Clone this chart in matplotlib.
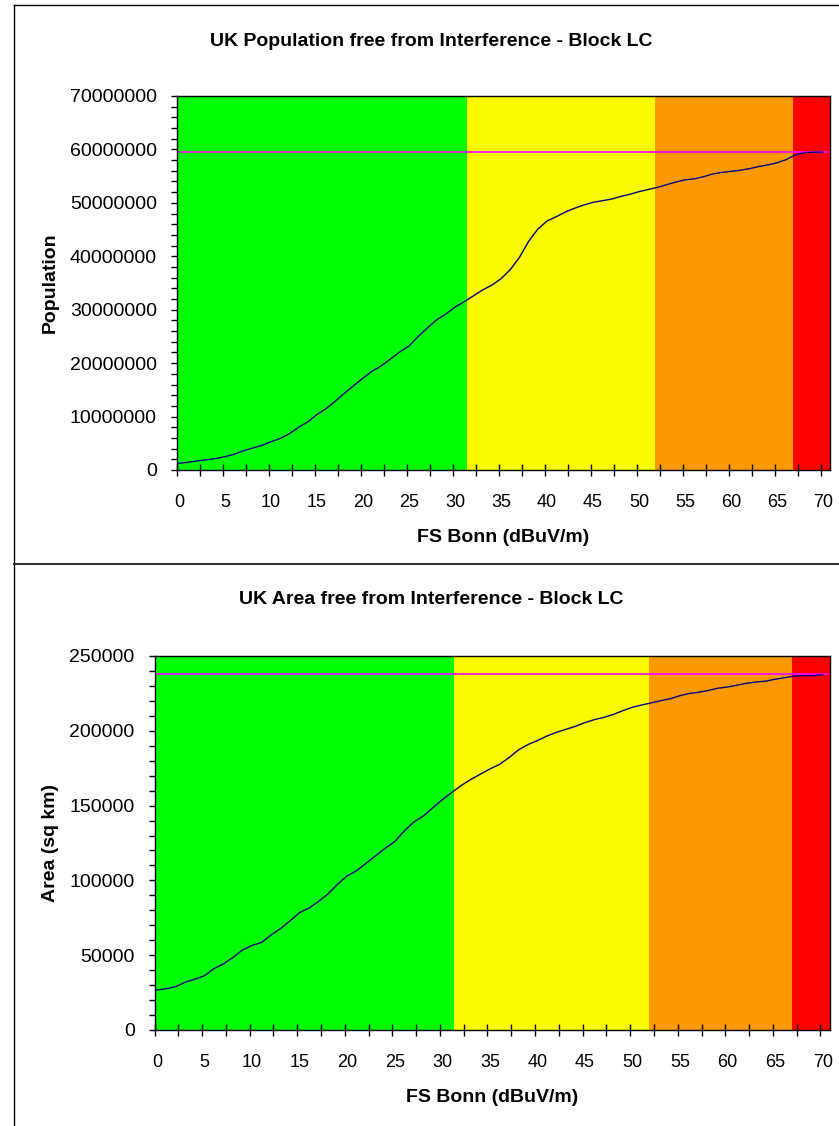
import matplotlib
matplotlib.use('Agg')
import matplotlib.pyplot as plt
import matplotlib.transforms as mtransforms
from matplotlib.lines import Line2D
from matplotlib.ticker import MultipleLocator, FixedLocator, FormatStrFormatter
import numpy as np

plt.rcParams['font.family'] = ['Liberation Sans', 'DejaVu Sans']

# ---- data ----
fs_bonn = np.arange(0, 71)  # dBuV/m

population = [1.25, 1.45, 1.7, 1.9, 2.15, 2.5, 2.95, 3.6, 4.1, 4.6,
              5.3, 5.9, 6.8, 8.0, 9.0, 10.4, 11.5, 12.9, 14.4, 15.8,
              17.2, 18.5, 19.5, 20.8, 22.1, 23.2, 25.0, 26.6, 28.1, 29.2,
              30.5, 31.5, 32.6, 33.7, 34.6, 35.8, 37.5, 39.8, 42.8, 45.1,
              46.6, 47.4, 48.3, 49.0, 49.6, 50.1, 50.4, 50.7, 51.2, 51.6,
              52.1, 52.5, 52.9, 53.4, 53.9, 54.3, 54.5, 54.9, 55.4, 55.7,
              55.9, 56.1, 56.4, 56.8, 57.1, 57.5, 58.1, 59.0, 59.4, 59.5,
              59.5]  # millions
population = np.array(population) * 1e6
pop_total = 59.5e6

area = [26.7, 27.6, 29.0, 32.0, 34.0, 36.3, 41.0, 44.2, 48.5, 53.5,
        56.5, 58.5, 63.5, 67.8, 73.0, 78.5, 81.5, 86.0, 91.0, 97.5,
        103.0, 106.5, 111.5, 116.5, 121.5, 126.0, 133.0, 139.0, 143.0, 148.5,
        154.0, 158.8, 163.5, 167.5, 171.0, 174.5, 177.5, 182.0, 187.2, 190.8,
        193.5, 196.5, 199.0, 201.0, 203.0, 205.5, 207.5, 209.0, 211.0, 213.5,
        215.8, 217.3, 218.7, 220.2, 221.5, 223.5, 225.0, 225.8, 227.0, 228.5,
        229.3, 230.5, 231.8, 232.6, 233.2, 234.5, 235.5, 236.6, 236.8, 236.8,
        237.5]  # thousand sq km
area = np.array(area) * 1e3
area_total = 237800

# interference bands
band_edges = [-0.25, 31.25, 51.75, 66.75, 70.75]
band_colors = ['#00FF00', '#FBFB00', '#FC9900', '#FF0000']

W, H = 839, 1126
fig = plt.figure(figsize=(W / 100, H / 100), dpi=100)
fig.patch.set_facecolor('white')

FS = 14      # titles, axis labels, y tick labels
FSX = 13     # x tick labels


def panel(rect, y, total, ymax, ymajor, yminor, title, ylabel, title_y):
    ax = fig.add_axes(rect)
    for i in range(len(band_colors)):
        ax.axvspan(band_edges[i], band_edges[i + 1], color=band_colors[i], lw=0, zorder=0)
    ax.plot([fs_bonn[0], fs_bonn[-1] + 0.5], [total, total], color='#FF00FF', lw=1.2, zorder=2)
    ax.plot(fs_bonn, y, color='#000080', lw=1.0, zorder=3)
    ax.set_xlim(band_edges[0], band_edges[-1])
    ax.set_ylim(0, ymax)

    ax.xaxis.set_major_locator(FixedLocator(np.arange(0, 71, 5)))
    ax.xaxis.set_minor_locator(FixedLocator(np.arange(-0.25, 70.5, 2.5)))
    ax.tick_params(axis='x', which='major', length=0, pad=17, labelsize=FSX)
    ax.tick_params(axis='x', which='minor', direction='inout', length=8, width=1)
    ax.yaxis.set_major_locator(MultipleLocator(ymajor))
    ax.yaxis.set_minor_locator(MultipleLocator(yminor))
    ax.yaxis.set_major_formatter(FormatStrFormatter('%d'))
    ax.tick_params(axis='y', which='both', direction='out', length=4.3, width=1)
    ax.tick_params(axis='y', which='major', pad=10, labelsize=FS)
    for s in ax.spines.values():
        s.set_linewidth(1)
        s.set_color('black')

    ax.set_xlabel('FS Bonn (dBuV/m)', fontsize=FS, fontweight='bold', labelpad=13)
    ax.set_ylabel(ylabel, fontsize=FS, fontweight='bold')
    ax.yaxis.set_label_coords(59 / W, 0.5,
                              transform=mtransforms.blended_transform_factory(fig.transFigure, ax.transAxes))
    fig.text(431 / W, 1 - title_y / H, title, ha='center', va='center',
             fontsize=FS, fontweight='bold')
    return ax


panel([176.7 / W, 1 - 470 / H, (830 - 176.7) / W, 374 / H], population, pop_total,
      70000000, 10000000, 2000000,
      'UK Population free from Interference - Block LC', 'Population', 41)
panel([154.5 / W, 1 - 1030 / H, (830 - 154.5) / W, 374 / H], area, area_total,
      250000, 50000, 10000,
      'UK Area free from Interference - Block LC', 'Area (sq km)', 600)

# chart-area borders
fig.add_artist(Line2D([13.5 / W, 13.5 / W], [0, 1 - 4.5 / H], transform=fig.transFigure, color='black', lw=1))
fig.add_artist(Line2D([13.5 / W, 1], [1 - 4.5 / H, 1 - 4.5 / H], transform=fig.transFigure, color='black', lw=1))
fig.add_artist(Line2D([13.5 / W, 1], [1 - 564 / H, 1 - 564 / H], transform=fig.transFigure, color='#333333', lw=1.5))

plt.savefig('out.png', dpi=100)
